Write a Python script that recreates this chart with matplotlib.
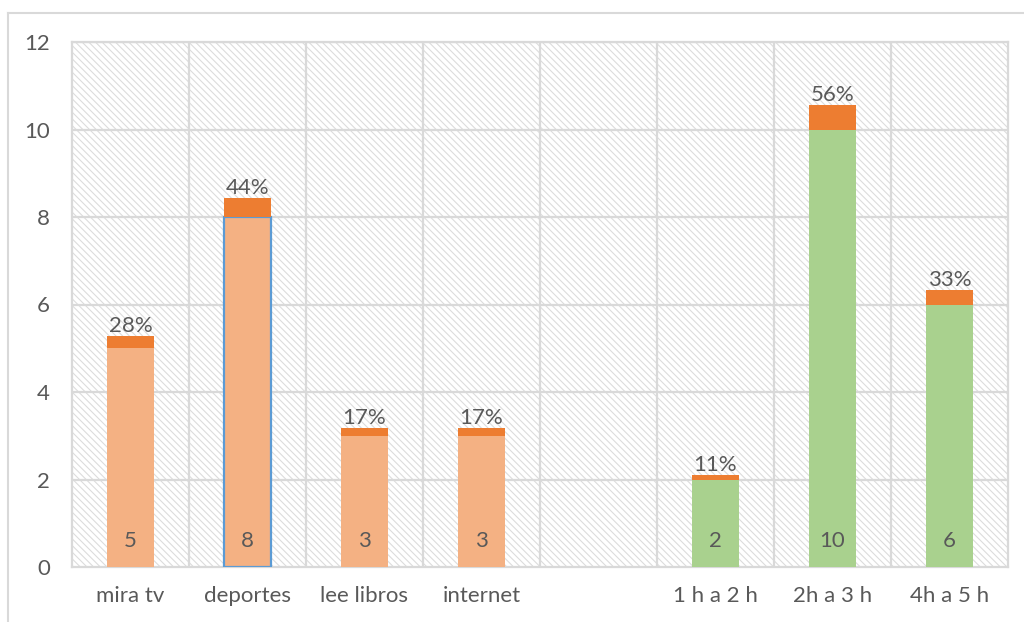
import matplotlib
matplotlib.use("Agg")
import matplotlib.pyplot as plt
from matplotlib.patches import Rectangle
from matplotlib.lines import Line2D

categories = ["mira tv", "deportes", "lee libros", "internet", "", "1 h a 2 h", "2h a 3 h", "4h a 5 h"]
counts = [5, 8, 3, 3, None, 2, 10, 6]
percents = [0.28, 0.44, 0.17, 0.17, None, 0.11, 0.56, 0.33]
pct_labels = ["28%", "44%", "17%", "17%", "", "11%", "56%", "33%"]
base_colors = ["#F4B183", "#F4B183", "#F4B183", "#F4B183", None, "#A9D18E", "#A9D18E", "#A9D18E"]
yticks = [0, 2, 4, 6, 8, 10, 12]

plt.rcParams['font.family'] = ['Lato', 'DejaVu Sans']
plt.rcParams['hatch.linewidth'] = 0.8
TXT = "#595959"
GRID = "#D9D9D9"
FS = 16

fig = plt.figure(figsize=(10.24, 6.22), dpi=100)
ax = fig.add_axes([72/1024, (622-567)/622, (1008-72)/1024, (567-42)/622])

n = len(categories)
ax.set_xlim(-0.5, n - 0.5)
ax.set_ylim(0, 12)

# hatched plot area background
ax.add_patch(Rectangle((0, 0), 1, 1, transform=ax.transAxes, facecolor="white",
                       edgecolor="#DCDCDC", linewidth=0, hatch='\\' * 5, zorder=0))

# gridlines
for y in yticks[1:]:
    ax.axhline(y, color=GRID, lw=1.6, zorder=1)
for i in range(n - 1):
    ax.axvline(i + 0.5, color=GRID, lw=1.6, zorder=1)

w = 0.40
for i, (c, p) in enumerate(zip(counts, percents)):
    if c is None:
        continue
    ec = "#5B9BD5" if categories[i] == "deportes" else "none"
    ax.bar(i, c, width=w, color=base_colors[i], edgecolor=ec, linewidth=1.6, zorder=3)
    ax.bar(i, p, bottom=c, width=w, color="#ED7D31", edgecolor="none", zorder=3)
    ax.annotate(str(c), (i, 0), xytext=(0, 26), textcoords="offset pixels",
                ha="center", va="center", fontsize=FS, color=TXT, zorder=4)
    ax.annotate(pct_labels[i], (i, c + p), xytext=(0, 0), textcoords="offset pixels",
                ha="center", va="bottom", fontsize=FS, color=TXT, zorder=4)

ax.set_xticks(range(n))
ax.set_xticklabels(categories)
ax.set_yticks(yticks)
ax.tick_params(axis="both", length=0, colors=TXT, labelsize=FS)
ax.tick_params(axis="x", pad=14)
ax.tick_params(axis="y", pad=16)
for s in ax.spines.values():
    s.set_color(GRID)
    s.set_linewidth(1.6)

# chart outer border (top and left visible)
fig.add_artist(Line2D([8/1024, 1.0], [1 - 13/622, 1 - 13/622], color="#D9D9D9", lw=1.5,
                      transform=fig.transFigure))
fig.add_artist(Line2D([8/1024, 8/1024], [0, 1 - 13/622], color="#D9D9D9", lw=1.5,
                      transform=fig.transFigure))

fig.savefig("out.png", dpi=100)
